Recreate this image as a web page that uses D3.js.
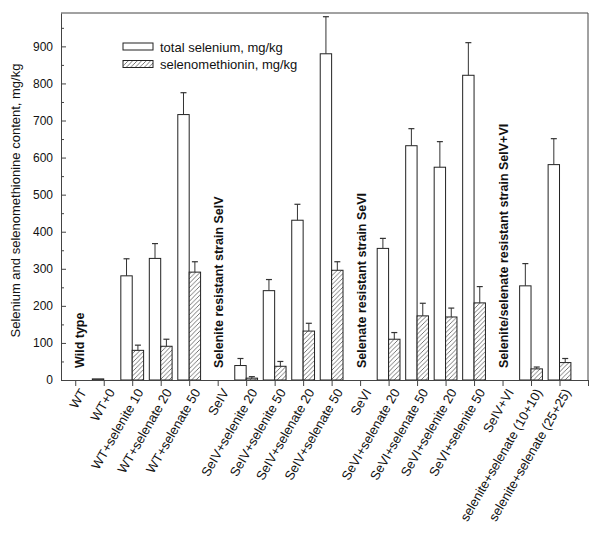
<!DOCTYPE html>
<html><head><meta charset="utf-8">
<script src="https://cdn.jsdelivr.net/npm/d3@7"></script>
<style>body{margin:0;background:#fff;} svg{display:block;font-family:"Liberation Sans",Arial,sans-serif;}</style>
</head><body><svg id="c" width="600" height="548"></svg>
<script>
const categories = ["WT","WT+0","WT+selenite 10","WT+selenate 20","WT+selenate 50","SeIV","SeIV+selenite 20","SeIV+selenite 50","SeIV+selenate 20","SeIV+selenate 50","SeVI","SeVI+selenate 20","SeVI+selenate 50","SeVI+selenite 20","SeVI+selenite 50","SeIV+VI","selenite+selenate (10+10)","selenite+selenate (25+25)"];
const totalSe    = [null,3,281,328,716,null,39,241,431,880,null,355,632,574,822,null,254,581];
const totalSeErr = [null,0,46,40,59,null,19,30,43,100,null,27,46,69,88,null,60,70];
const seMet      = [null,null,80,91,291,null,5,37,132,296,null,110,173,170,208,null,30,47];
const seMetErr   = [null,null,14,19,28,null,4,13,21,23,null,18,34,24,44,null,5,11];
const yTicks = [0,100,200,300,400,500,600,700,800,900];
const groupLabels = [
  {pos:0, text:"Wild type"},
  {pos:5, text:"Selenite resistant strain SelV"},
  {pos:10, text:"Selenate resistant strain SeVI"},
  {pos:15, text:"Selenite/selenate resistant strain SelV+VI"}
];
const legendItems = ["total selenium, mg/kg","selenomethionin, mg/kg"];

const svg = d3.select("#c");
const L=61, R=588, T=13, B=380;
const x = d3.scaleLinear().domain([-0.5, 18]).range([L, R]);
const y = d3.scaleLinear().domain([0, 990]).range([B, T]);
const bw = 0.4;

const defs = svg.append("defs");
const pat = defs.append("pattern").attr("id","hatch").attr("patternUnits","userSpaceOnUse")
  .attr("width",4.5).attr("height",4.5);
pat.append("rect").attr("width",4.5).attr("height",4.5).attr("fill","#fff");
pat.append("path").attr("d","M-1,1 l2,-2 M0,4.5 l4.5,-4.5 M3.5,5.5 l2,-2")
  .attr("stroke","#555").attr("stroke-width",0.8);

// frame
svg.append("line").attr("x1",L).attr("x2",R).attr("y1",T).attr("y2",T).attr("stroke","#444");
svg.append("line").attr("x1",R).attr("x2",R).attr("y1",T).attr("y2",B).attr("stroke","#444");

// bars
const idx = d3.range(categories.length);
const g = svg.append("g");
function drawSeries(vals, errs, off, fill){
  const d = idx.filter(i => vals[i] != null);
  g.selectAll(null).data(d).join("rect")
    .attr("x", i => x(i+off)).attr("width", x(bw)-x(0))
    .attr("y", i => y(vals[i])).attr("height", i => y(0)-y(vals[i]))
    .attr("fill", fill).attr("stroke","#222").attr("stroke-width",1);
  const e = d.filter(i => errs[i]);
  const cx = i => x(i+off+bw/2);
  g.selectAll(null).data(e).join("line")
    .attr("x1",cx).attr("x2",cx).attr("y1",i=>y(vals[i])).attr("y2",i=>y(vals[i]+errs[i]))
    .attr("stroke","#333").attr("stroke-width",1);
  g.selectAll(null).data(e).join("line")
    .attr("x1",i=>cx(i)-3).attr("x2",i=>cx(i)+3).attr("y1",i=>y(vals[i]+errs[i])).attr("y2",i=>y(vals[i]+errs[i]))
    .attr("stroke","#333").attr("stroke-width",1.2);
}
drawSeries(totalSe, totalSeErr, -bw, "#fff");
drawSeries(seMet, seMetErr, 0, "url(#hatch)");

// y axis
const ya = svg.append("g").attr("transform",`translate(${L},0)`)
  .call(d3.axisLeft(y).tickValues(yTicks).tickSizeInner(-5).tickSizeOuter(0).tickPadding(8));
ya.selectAll(".tick text").attr("font-size",12).attr("fill","#111");
ya.selectAll("line,path").attr("stroke","#444");
svg.append("g").attr("transform",`translate(${L},0)`)
  .call(d3.axisLeft(y).tickValues(d3.range(50,990,100)).tickSize(-3).tickFormat(""))
  .call(s=>s.select(".domain").remove()).selectAll("line").attr("stroke","#444");

// x axis
const xa = svg.append("g").attr("transform",`translate(0,${B})`)
  .call(d3.axisBottom(x).tickValues(d3.range(0,19)).tickSizeInner(6).tickSizeOuter(0)
    .tickFormat(i => categories[i] || ""));
xa.selectAll("line,path").attr("stroke","#444");
xa.selectAll(".tick text").attr("font-size",13).attr("fill","#111")
  .attr("text-anchor","end").attr("dy","0.35em")
  .attr("transform","translate(3,5) rotate(-60)").attr("y",6).attr("x",-2);

// y label
svg.append("text").attr("transform",`translate(20,${(T+B)/2+4}) rotate(-90)`)
  .attr("text-anchor","middle").attr("font-size",13).attr("fill","#111")
  .text("Selenium and selenomethionine content, mg/kg");

// group labels
svg.selectAll(null).data(groupLabels).join("text")
  .attr("transform", (d,i) => `translate(${x(d.pos)+(i===0?9:5.5)},${B-12}) rotate(-90)`)
  .attr("font-size",12.5).attr("font-weight","bold").attr("fill","#111")
  .text(d => d.text);

// legend
const lg = svg.append("g");
lg.selectAll(null).data(legendItems).join("rect")
  .attr("x",123).attr("y",(d,i)=>43+i*17.5).attr("width",30).attr("height",7)
  .attr("fill",(d,i)=> i? "url(#hatch)":"#fff").attr("stroke","#222");
lg.selectAll(null).data(legendItems).join("text")
  .attr("x",160).attr("y",(d,i)=>47+i*17.5).attr("dy","0.35em")
  .attr("font-size",13).attr("fill","#111").text(d=>d);
</script></body></html>
